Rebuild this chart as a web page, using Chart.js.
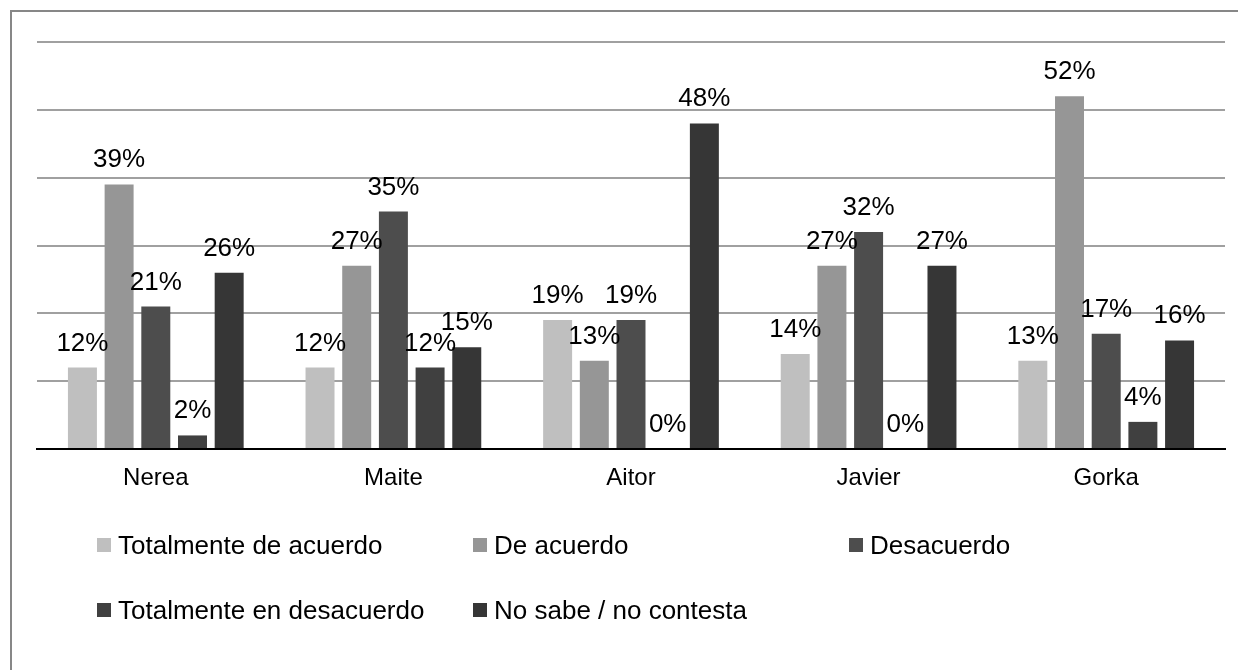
<!DOCTYPE html>
<html>
<head>
<meta charset="utf-8">
<script src="https://cdn.jsdelivr.net/npm/chart.js@4.4.1/dist/chart.umd.min.js"></script>
<style>
  html, body { margin: 0; padding: 0; background: #fff; }
  canvas { display: block; }
</style>
</head>
<body>
<canvas id="chart-opinion" width="1238" height="670"></canvas>
<script>
const personas = ['Nerea', 'Maite', 'Aitor', 'Javier', 'Gorka'];
const respuestas = ['Totalmente de acuerdo', 'De acuerdo', 'Desacuerdo', 'Totalmente en desacuerdo', 'No sabe / no contesta'];
const colores = ['#bfbfbf', '#969696', '#4d4d4d', '#404040', '#363636'];

// porcentaje por persona, una lista por respuesta
const totalmenteAcuerdo = [12, 12, 19, 14, 13];
const deAcuerdo = [39, 27, 13, 27, 52];
const desacuerdo = [21, 35, 19, 32, 17];
const totalmenteDesacuerdo = [2, 12, 0, 0, 4];
const noSabe = [26, 15, 48, 27, 16];

const FONT = 'Arial, "Liberation Sans", sans-serif';

// marco gris alrededor del grafico
const marco = {
    id: 'marco',
    beforeDraw(chart) {
        const ctx = chart.ctx;
        ctx.save();
        ctx.fillStyle = '#fff';
        ctx.fillRect(0, 0, chart.width, chart.height);
        ctx.strokeStyle = '#878787';
        ctx.lineWidth = 2;
        ctx.strokeRect(11, 11, chart.width + 10, chart.height + 10);
        ctx.restore();
    }
};

// etiquetas con el valor encima de cada barra
const etiquetas = {
    id: 'etiquetas',
    afterDatasetsDraw(chart) {
        const ctx = chart.ctx;
        ctx.save();
        ctx.font = '26px ' + FONT;
        ctx.fillStyle = '#000';
        ctx.textAlign = 'center';
        ctx.textBaseline = 'alphabetic';
        chart.data.datasets.forEach((ds, i) => {
            chart.getDatasetMeta(i).data.forEach((bar, j) => {
                ctx.fillText(ds.data[j] + '%', bar.x, bar.y - 17);
            });
        });
        ctx.restore();
    }
};

// leyenda en columnas fijas, dos filas
const leyenda = {
    id: 'leyenda',
    afterDraw(chart) {
        const ctx = chart.ctx;
        ctx.save();
        ctx.font = '26px ' + FONT;
        ctx.textBaseline = 'alphabetic';
        ctx.textAlign = 'left';
        chart.data.datasets.forEach((ds, i) => {
            const col = i % 3;
            const row = Math.floor(i / 3);
            const x = 97 + col * 376;
            const y = 538 + row * 65;
            ctx.fillStyle = ds.backgroundColor;
            ctx.fillRect(x, y, 14, 14);
            ctx.fillStyle = '#000';
            ctx.fillText(ds.label, x + 21, y + 16);
        });
        ctx.restore();
    }
};

const series = [totalmenteAcuerdo, deAcuerdo, desacuerdo, totalmenteDesacuerdo, noSabe];

new Chart(document.getElementById('chart-opinion').getContext('2d'), {
    type: 'bar',
    data: {
        labels: personas,
        datasets: series.map((valores, i) => ({
            label: respuestas[i],
            data: valores,
            backgroundColor: colores[i],
            borderWidth: 0,
            categoryPercentage: 0.772,
            barPercentage: 0.79
        }))
    },
    options: {
        responsive: false,
        animation: false,
        devicePixelRatio: 1,
        layout: { padding: { top: 42, left: 37, right: 13, bottom: 0 } },
        plugins: {
            legend: { display: false },
            tooltip: { enabled: false }
        },
        scales: {
            x: {
                grid: { display: false, drawTicks: false },
                border: { display: true, color: '#000', width: 2 },
                ticks: {
                    color: '#000',
                    padding: 15,
                    font: { family: FONT, size: 24 }
                },
                afterFit: s => { s.height = 221; }
            },
            y: {
                min: 0,
                max: 60,
                ticks: { display: false, stepSize: 10 },
                grid: { color: '#a0a0a0', lineWidth: 2, drawTicks: false },
                border: { display: false },
                afterFit: s => { s.width = 0; }
            }
        }
    },
    plugins: [marco, etiquetas, leyenda]
});
</script>
</body>
</html>
